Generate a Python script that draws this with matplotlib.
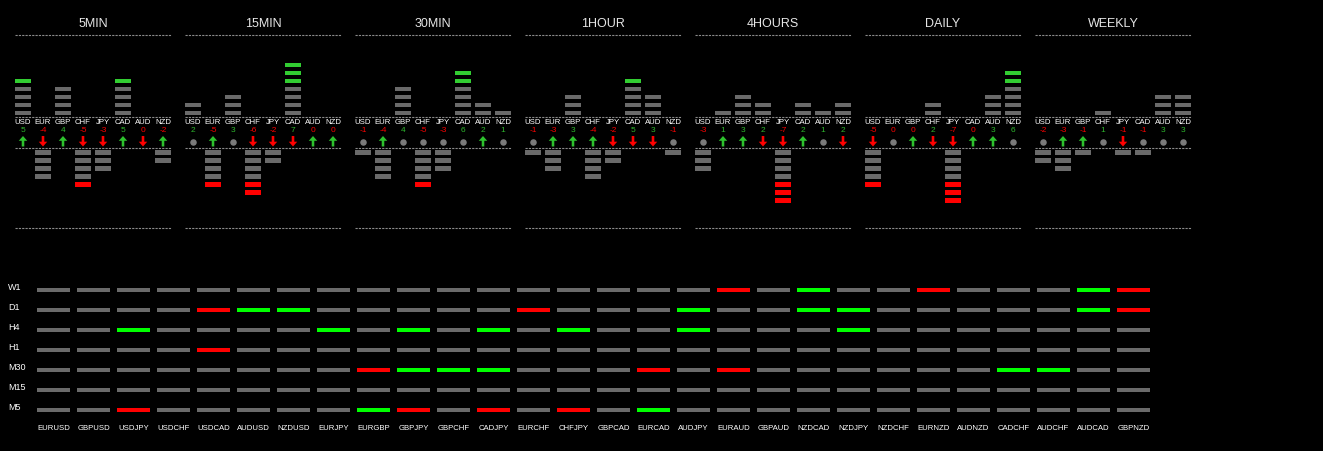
import numpy as np
import matplotlib
matplotlib.use("Agg")
import matplotlib.pyplot as plt

plt.rcParams['font.family'] = ['Liberation Sans', 'DejaVu Sans']

# currency strength panels
timeframes = ['5MIN', '15MIN', '30MIN', '1HOUR', '4HOURS', 'DAILY', 'WEEKLY']
currencies = ['USD', 'EUR', 'GBP', 'CHF', 'JPY', 'CAD', 'AUD', 'NZD']

strength_5min = [5, -4, 4, -5, -3, 5, 0, -2]
strength_15min = [2, -5, 3, -6, -2, 7, 0, 0]
strength_30min = [-1, -4, 4, -5, -3, 6, 2, 1]
strength_1hour = [-1, -3, 3, -4, -2, 5, 3, -1]
strength_4hours = [-3, 1, 3, 2, -7, 2, 1, 2]
strength_daily = [-5, 0, 0, 2, -7, 0, 3, 6]
strength_weekly = [-2, -3, -1, 1, -1, -1, 3, 3]

# 1 = up arrow, -1 = down arrow, 0 = dot
signal_5min = [1, -1, 1, -1, -1, 1, -1, 1]
signal_15min = [0, 1, 0, -1, -1, -1, 1, 1]
signal_30min = [0, 1, 0, 0, 0, 0, 1, 0]
signal_1hour = [0, 1, 1, 1, -1, -1, -1, 0]
signal_4hours = [0, 1, 1, -1, -1, 1, 0, -1]
signal_daily = [-1, 0, 1, -1, -1, 1, 1, 0]
signal_weekly = [0, 1, 1, 0, -1, 0, 0, 0]

strengths = [strength_5min, strength_15min, strength_30min, strength_1hour,
             strength_4hours, strength_daily, strength_weekly]
signals = [signal_5min, signal_15min, signal_30min, signal_1hour,
           signal_4hours, signal_daily, signal_weekly]

# pair matrix
pairs = ['EURUSD', 'GBPUSD', 'USDJPY', 'USDCHF', 'USDCAD', 'AUDUSD', 'NZDUSD',
         'EURJPY', 'EURGBP', 'GBPJPY', 'GBPCHF', 'CADJPY', 'EURCHF', 'CHFJPY',
         'GBPCAD', 'EURCAD', 'AUDJPY', 'EURAUD', 'GBPAUD', 'NZDCAD', 'NZDJPY',
         'NZDCHF', 'EURNZD', 'AUDNZD', 'CADCHF', 'AUDCHF', 'AUDCAD', 'GBPNZD']
rows = ['W1', 'D1', 'H4', 'H1', 'M30', 'M15', 'M5']
#          EU GU UJ UC UC AU NU EJ EG GJ GC CJ EC CJ GC EC AJ EA GA NC NJ NC EN AN CC AC AC GN
row_w1 =  [0, 0, 0, 0, 0, 0, 0, 0, 0, 0, 0, 0, 0, 0, 0, 0, 0,-1, 0, 1, 0, 0,-1, 0, 0, 0, 1,-1]
row_d1 =  [0, 0, 0, 0,-1, 1, 1, 0, 0, 0, 0, 0,-1, 0, 0, 0, 1, 0, 0, 1, 1, 0, 0, 0, 0, 0, 1,-1]
row_h4 =  [0, 0, 1, 0, 0, 0, 0, 1, 0, 1, 0, 1, 0, 1, 0, 0, 1, 0, 0, 0, 1, 0, 0, 0, 0, 0, 0, 0]
row_h1 =  [0, 0, 0, 0,-1, 0, 0, 0, 0, 0, 0, 0, 0, 0, 0, 0, 0, 0, 0, 0, 0, 0, 0, 0, 0, 0, 0, 0]
row_m30 = [0, 0, 0, 0, 0, 0, 0, 0,-1, 1, 1, 1, 0, 0, 0,-1, 0,-1, 0, 0, 0, 0, 0, 0, 1, 1, 0, 0]
row_m15 = [0, 0, 0, 0, 0, 0, 0, 0, 0, 0, 0, 0, 0, 0, 0, 0, 0, 0, 0, 0, 0, 0, 0, 0, 0, 0, 0, 0]
row_m5 =  [0, 0,-1, 0, 0, 0, 0, 0, 1,-1, 0,-1, 0,-1, 0, 1, 0, 0, 0, 0, 0, 0, 0, 0, 0, 0, 0, 0]
matrix = [row_w1, row_d1, row_h4, row_h1, row_m30, row_m15, row_m5]

GRAY = '#6a6a6a'
BAR_GREEN = '#32cd32'
RED = '#ff0000'
LIME = '#00ff00'
NUM_GREEN = '#2db82d'
ARROW_GREEN = '#2ec22e'
DASH = '#8a8a8a'

fig = plt.figure(figsize=(13.23, 4.51), dpi=100, facecolor='black')
ax = fig.add_axes([0, 0, 1, 1])
ax.set_facecolor('black')
ax.set_xlim(0, 1323)
ax.set_ylim(451, 0)
ax.axis('off')

panel_w = 156
for p, tf in enumerate(timeframes):
    x0 = 15 + 170 * p
    ax.text(x0 + panel_w / 2, 24, tf, color='#e6e6e6', fontsize=9,
            ha='center', va='center')
    for yy in (35, 116.5, 147.5, 228):
        ax.plot([x0, x0 + panel_w], [yy, yy], color=DASH, lw=0.8,
                ls=(0, (2, 1)))

    xs, bots, cols = [], [], []
    for i, v in enumerate(strengths[p]):
        left = x0 + 20 * i
        for k in range(abs(v)):
            xs.append(left)
            if v > 0:
                bots.append(110.5 - 8 * k)
                cols.append(BAR_GREEN if k >= 4 else GRAY)
            else:
                bots.append(150 + 8 * k)
                cols.append(RED if k >= 4 else GRAY)
    ax.bar(xs, 4.5, width=16, bottom=bots, align='edge', color=cols, lw=0)

    for i, cur in enumerate(currencies):
        cx = x0 + 20 * i + 8
        v = strengths[p][i]
        ax.text(cx, 122, cur, color='white', fontsize=5.6, ha='center',
                va='center')
        ax.text(cx, 131, str(v), color=NUM_GREEN if v > 0 else RED,
                fontsize=6, ha='center', va='center')
        s = signals[p][i]
        if s == 1:
            ax.arrow(cx, 146.5, 0, -10.5, width=2.6, head_width=8.5,
                     head_length=4.8, length_includes_head=True,
                     color=ARROW_GREEN, lw=0)
        elif s == -1:
            ax.arrow(cx, 136, 0, 10.5, width=2.6, head_width=8.5,
                     head_length=4.8, length_includes_head=True,
                     color=RED, lw=0)
        else:
            ax.scatter([cx], [141.5], s=22, color='#7a7a7a', lw=0)

# pair matrix
state_col = {0: GRAY, 1: LIME, -1: RED}
for r, name in enumerate(rows):
    y = 290 + 20 * r
    ax.text(8, y - 2, name, color='white', fontsize=6.5, ha='left',
            va='center')
    lefts = [37 + 40 * j for j in range(len(pairs))]
    ax.bar(lefts, 4, width=33, bottom=y - 2, align='edge',
           color=[state_col[s] for s in matrix[r]], lw=0)

for j, pr in enumerate(pairs):
    ax.text(37 + 40 * j + 16.5, 428.5, pr, color='white', fontsize=5.6,
            ha='center', va='center')

fig.savefig('out.png', dpi=100, facecolor='black')
